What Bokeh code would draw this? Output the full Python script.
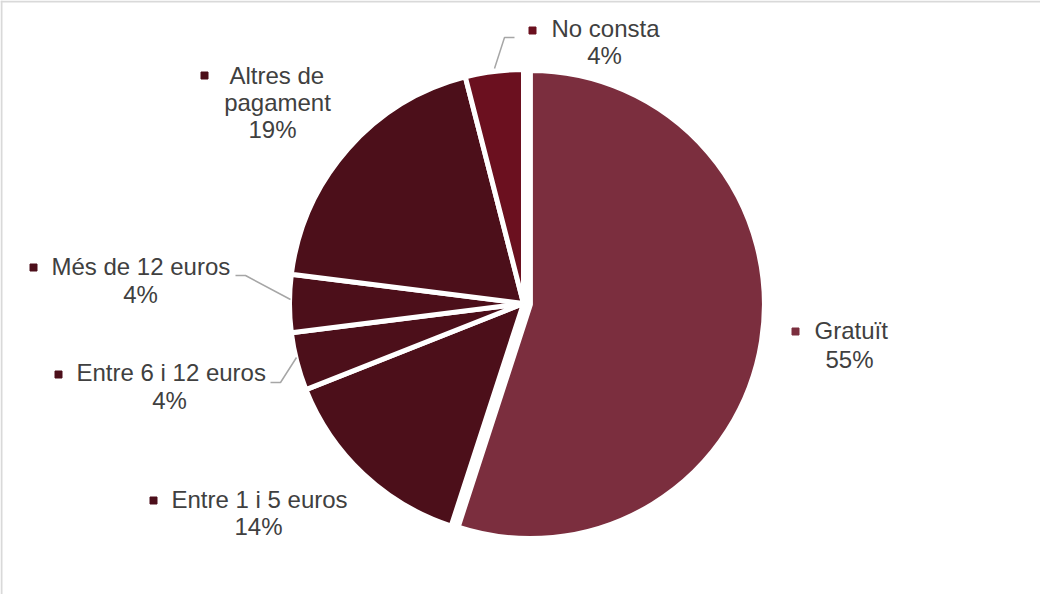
import math
from bokeh.plotting import figure
from bokeh.models import Range1d, Span, ColumnDataSource
from bokeh.core.properties import value
from bokeh.embed import file_html
from bokeh.resources import INLINE

# ---- data ----
categories = ["Gratuït", "Entre 1 i 5 euros", "Entre 6 i 12 euros",
              "Més de 12 euros", "Altres de pagament", "No consta"]
shares = [55, 14, 4, 4, 19, 4]
pct_labels = ["55%", "14%", "4%", "4%", "19%", "4%"]

# ---- styles ----
colors = ["#7B2E3E", "#4C0F1A", "#4C0F1A", "#4C0F1A", "#4C0F1A", "#6B101F"]
explode = [7, 0, 0, 0, 0, 0]
RADIUS = 234
FONT = value("Liberation Sans")
FSIZE = "24px"
TXT = "#404040"
TEXT_DY = 9  # baseline correction

# label layout (relative to pie centre, px): square, first-line left, following lines centred
label_layout = {
    "Gratuït":            dict(sq=(272, -28), first=("Gratuït", 291, -36), rest=[("55%", 326, -65)]),
    "Entre 1 i 5 euros":  dict(sq=(-370, -197), first=("Entre 1 i 5 euros", -352, -205), rest=[("14%", -265, -232)]),
    "Entre 6 i 12 euros": dict(sq=(-465, -71), first=("Entre 6 i 12 euros", -447, -78), rest=[("4%", -354, -106)]),
    "Més de 12 euros":    dict(sq=(-490, 36), first=("Més de 12 euros", -472, 28), rest=[("4%", -383, 0)]),
    "Altres de pagament": dict(sq=(-319, 228), first=("Altres de", -294, 219), rest=[("pagament", -246, 192), ("19%", -251, 165)]),
    "No consta":          dict(sq=(9, 273), first=("No consta", 28, 266), rest=[("4%", 81, 239)]),
}
leaders = {
    "Més de 12 euros": ([-288, -278, -233], [28, 28, 4]),
    "Entre 6 i 12 euros": ([-253, -243, -227], [-79, -79, -54]),
    "No consta": ([-29, -19, -9], [235, 266, 266]),
}

p = figure(width=1040, height=594, output_backend="svg", toolbar_location=None,
           x_range=Range1d(-523, 517), y_range=Range1d(-291, 303),
           min_border=0)
p.axis.visible = False
p.grid.visible = False
p.outline_line_color = None
p.background_fill_color = "white"
p.border_fill_color = "white"

# wedges
total = float(sum(shares))
cum = 0.0
xs, ys, starts, ends = [], [], [], []
for s, e in zip(shares, explode):
    t0 = cum / total * 2 * math.pi
    t1 = (cum + s) / total * 2 * math.pi
    mid = (t0 + t1) / 2
    xs.append(e * math.sin(mid))
    ys.append(e * math.cos(mid))
    starts.append(math.pi / 2 - t0)
    ends.append(math.pi / 2 - t1)
    cum += s

src = ColumnDataSource(dict(x=xs, y=ys, start=starts, end=ends, color=colors, cat=categories))
p.wedge(x="x", y="y", radius=RADIUS, start_angle="start", end_angle="end",
        direction="clock", fill_color="color", line_color="white", line_width=5, source=src)

# leader lines
for cat, (lx, ly) in leaders.items():
    p.line(lx, ly, line_color="#A6A6A6", line_width=1.5)

# labels
sqx, sqy, sqc = [], [], []
tx, ty, tt = [], [], []
cx, cy, ct = [], [], []
for cat, col in zip(categories, colors):
    lay = label_layout[cat]
    sqx.append(lay["sq"][0]); sqy.append(lay["sq"][1]); sqc.append(col)
    t0, x0, y0 = lay["first"]
    tx.append(x0); ty.append(y0 + TEXT_DY); tt.append(t0)
    for t, x1, y1 in lay["rest"]:
        cx.append(x1); cy.append(y1 + TEXT_DY); ct.append(t)

p.scatter(sqx, sqy, marker="square", size=7, fill_color=sqc, line_color=sqc)
p.text(tx, ty, text=tt, text_font=FONT, text_font_size=FSIZE, text_color=TXT,
       text_align="left", text_baseline="alphabetic")
p.text(cx, cy, text=ct, text_font=FONT, text_font_size=FSIZE, text_color=TXT,
       text_align="center", text_baseline="alphabetic")

# chart border (left and top visible)
p.add_layout(Span(location=-522, dimension="height", line_color="#D9D9D9", line_width=2))
p.add_layout(Span(location=302, dimension="width", line_color="#D9D9D9", line_width=2))

open("out.html", "w").write(file_html(p, INLINE))
